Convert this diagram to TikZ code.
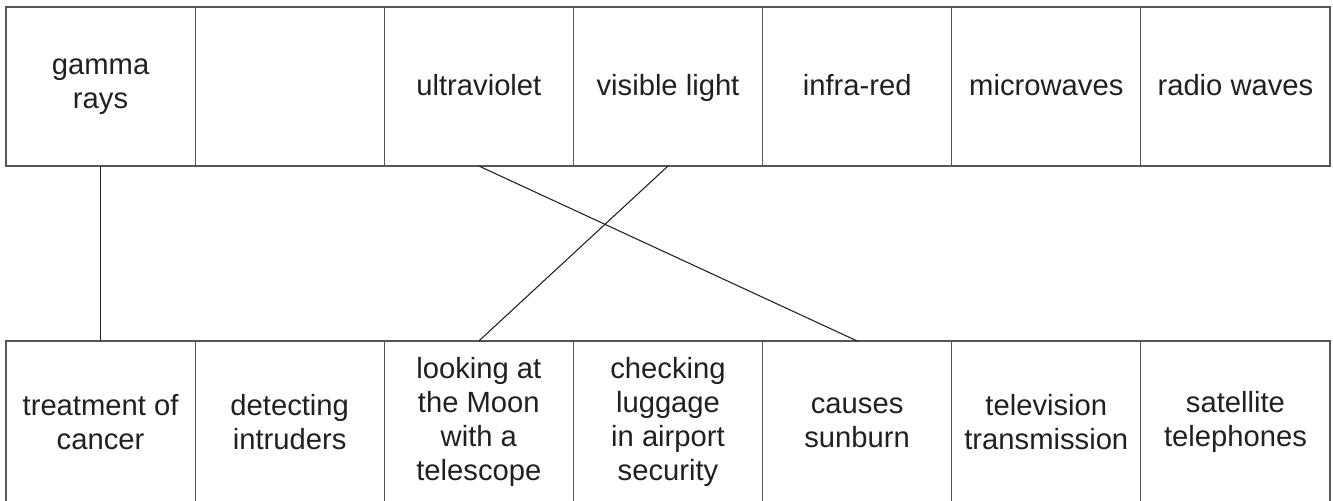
\documentclass[tikz,border=0pt]{standalone}
\usepackage{fontspec}
\setmainfont{Liberation Sans}
\definecolor{boxgray}{HTML}{555555}
\definecolor{ink}{HTML}{231F20}
\begin{document}
\begin{tikzpicture}[x=0.75pt,y=-0.75pt,
  cell/.style={draw=boxgray, line width=0.8pt, minimum width=141.86pt, minimum height=119.25pt,
    inner sep=0pt, outer sep=0pt, align=center, text=ink,
    font=\fontsize{21.9pt}{25.5pt}\selectfont},
  onecell/.style={cell, text height=16.6pt, text depth=3.8pt},
  lowcell/.style={cell, minimum height=122pt},
  link/.style={draw=ink, line width=0.8pt}]
\useasboundingbox (0,0) rectangle (1333,500);
% top row
\node[cell] (gamma) at (100.57,86.5) {gamma\\rays};
\node[cell] (blank) at (289.71,86.5) {};
\node[onecell] (uv) at (478.86,86.5) {ultraviolet};
\node[onecell] (vis) at (668.0,86.5) {visible light};
\node[onecell] (ir) at (857.14,86.5) {infra-red};
\node[onecell] (micro) at (1046.29,86.5) {microwaves};
\node[onecell] (radio) at (1235.43,86.5) {radio waves};
% bottom row
\node[lowcell] (cancer) at (100.57,422.3) {treatment of\\cancer};
\node[lowcell] (intruders) at (289.71,422.3) {detecting\\intruders};
\node[lowcell] (moon) at (478.86,422.3) {looking at\\the Moon\\with a\\telescope};
\node[lowcell] (luggage) at (668.0,422.3) {checking\\luggage\\in airport\\security};
\node[lowcell] (sunburn) at (857.14,422.3) {causes\\sunburn};
\node[lowcell] (tv) at (1046.29,422.3) {television\\transmission};
\node[lowcell] (sat) at (1235.43,422.3) {satellite\\telephones};
% connectors
\draw[link] (gamma.south) -- (cancer.north);
\draw[link] (uv.south) -- (sunburn.north);
\draw[link] (vis.south) -- (moon.north);
\end{tikzpicture}
\end{document}
